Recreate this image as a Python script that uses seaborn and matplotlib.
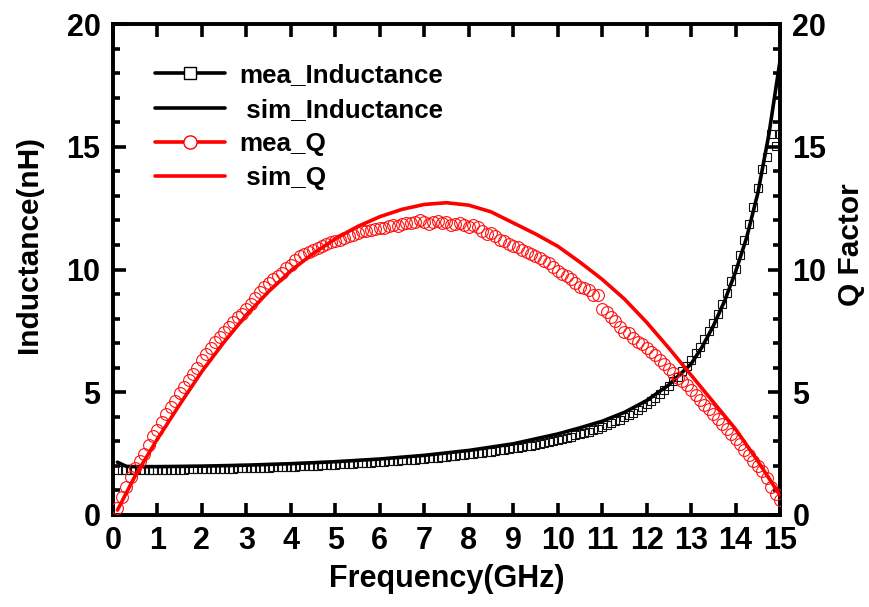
import numpy as np
import pandas as pd
import matplotlib
matplotlib.use("Agg")
import matplotlib.pyplot as plt
from matplotlib.lines import Line2D
from matplotlib.ticker import MultipleLocator
import seaborn as sns

# ---- data -------------------------------------------------------------
# measured sweep: 0.1 GHz .. 15.0 GHz in 0.1 GHz steps
freq_mea = np.round(np.arange(1, 151) * 0.1, 1)

mea_inductance = [
    1.82, 1.82, 1.82, 1.82, 1.83, 1.83, 1.83, 1.83, 1.84, 1.84,
    1.84, 1.84, 1.85, 1.85, 1.85, 1.85, 1.86, 1.86, 1.86, 1.87,
    1.87, 1.87, 1.88, 1.88, 1.88, 1.89, 1.89, 1.90, 1.90, 1.91,
    1.91, 1.92, 1.92, 1.93, 1.93, 1.94, 1.95, 1.95, 1.96, 1.97,
    1.97, 1.98, 1.99, 2.00, 2.00, 2.01, 2.02, 2.03, 2.04, 2.05,
    2.06, 2.07, 2.08, 2.09, 2.10, 2.11, 2.12, 2.13, 2.14, 2.16,
    2.17, 2.18, 2.19, 2.21, 2.22, 2.23, 2.25, 2.26, 2.28, 2.29,
    2.31, 2.32, 2.34, 2.36, 2.37, 2.39, 2.41, 2.43, 2.45, 2.47,
    2.49, 2.51, 2.53, 2.55, 2.58, 2.60, 2.63, 2.65, 2.68, 2.71,
    2.74, 2.77, 2.80, 2.83, 2.86, 2.90, 2.94, 2.97, 3.01, 3.06,
    3.10, 3.14, 3.19, 3.24, 3.29, 3.34, 3.40, 3.46, 3.52, 3.59,
    3.66, 3.73, 3.81, 3.89, 3.98, 4.07, 4.17, 4.28, 4.39, 4.51,
    4.64, 4.78, 4.93, 5.09, 5.26, 5.44, 5.64, 5.85, 6.08, 6.32,
    6.58, 6.86, 7.16, 7.48, 7.83, 8.20, 8.61, 9.05, 9.52, 10.03,
    10.60, 11.20, 11.85, 12.55, 13.30, 14.10, 14.60, 15.50, 15.05, 15.50,
]

mea_q = [
    0.30, 0.75, 1.15, 1.55, 1.90, 2.20, 2.50, 2.85, 3.20, 3.45,
    3.80, 4.10, 4.40, 4.65, 4.95, 5.20, 5.50, 5.75, 6.00, 6.30,
    6.55, 6.80, 7.05, 7.25, 7.45, 7.65, 7.85, 8.05, 8.20, 8.40,
    8.60, 8.85, 9.10, 9.30, 9.45, 9.60, 9.72, 9.85, 10.05, 10.20,
    10.40, 10.55, 10.65, 10.72, 10.80, 10.88, 10.95, 11.02, 11.10, 11.15,
    11.22, 11.30, 11.35, 11.42, 11.50, 11.55, 11.58, 11.62, 11.65, 11.70,
    11.68, 11.78, 11.80, 11.78, 11.85, 11.90, 11.88, 11.95, 12.00, 11.92,
    11.85, 11.95, 11.98, 11.90, 11.92, 11.80, 11.85, 11.90, 11.82, 11.75,
    11.80, 11.72, 11.55, 11.45, 11.50, 11.35, 11.20, 11.15, 11.05, 10.95,
    10.90, 10.80, 10.70, 10.62, 10.55, 10.45, 10.35, 10.25, 10.10, 9.95,
    9.80, 9.75, 9.62, 9.45, 9.30, 9.25, 9.15, 8.95, 8.95, 8.40,
    8.25, 8.05, 7.90, 7.65, 7.45, 7.40, 7.20, 7.05, 6.95, 6.80,
    6.65, 6.50, 6.30, 6.15, 5.95, 5.80, 5.60, 5.45, 5.30, 5.10,
    4.90, 4.70, 4.50, 4.30, 4.10, 3.90, 3.70, 3.50, 3.30, 3.10,
    2.90, 2.65, 2.45, 2.20, 2.00, 1.80, 1.50, 1.15, 0.85, 0.60,
]

# simulated model curves
freq_sim_l = [0.1, 0.3, 0.5, 1, 2, 3, 4, 5, 6, 7, 8, 9, 10, 10.5, 11, 11.5,
              12, 12.5, 13, 13.25, 13.5, 13.75, 14, 14.25, 14.5, 14.75, 15]
sim_inductance = [2.15, 1.98, 1.97, 1.97, 1.99, 2.03, 2.09, 2.17, 2.28, 2.43,
                  2.63, 2.90, 3.30, 3.55, 3.82, 4.18, 4.66, 5.30, 6.15, 6.85,
                  7.70, 8.70, 9.90, 11.30, 13.10, 15.50, 18.50]

freq_sim_q = [0.1, 0.5, 1.0, 1.5, 2.0, 2.5, 3.0, 3.5, 4.0, 4.5, 5.0, 5.5, 6.0,
              6.5, 7.0, 7.5, 8.0, 8.5, 9.0, 9.5, 10.0, 10.5, 11.0, 11.5, 12.0,
              12.5, 13.0, 13.5, 14.0, 14.5, 15.0]
sim_q = [0.20, 1.60, 3.10, 4.50, 5.85, 7.05, 8.15, 9.10, 9.95, 10.65, 11.25,
         11.75, 12.15, 12.45, 12.65, 12.72, 12.62, 12.35, 11.90, 11.45, 10.95,
         10.30, 9.60, 8.80, 7.85, 6.80, 5.70, 4.60, 3.50, 2.20, 0.80]

x_ticks = list(range(0, 16))
y_ticks = [0, 5, 10, 15, 20]

# ---- style ------------------------------------------------------------
sns.set_theme(style="ticks")
plt.rcParams["font.family"] = ["Liberation Sans", "DejaVu Sans"]
plt.rcParams["font.weight"] = "bold"
for key in ("text.color", "axes.labelcolor", "xtick.color", "ytick.color",
            "axes.edgecolor"):
    plt.rcParams[key] = "black"

LW = 2.6
fig = plt.figure(figsize=(8.7, 6.07), dpi=100)
ax = fig.add_axes([113 / 870, 92 / 607, 667 / 870, 491 / 607])
ax2 = ax.twinx()

# inductance (left axis)
sns.lineplot(x=freq_mea, y=mea_inductance, ax=ax, marker="s", linestyle="none",
             markersize=6.0, markerfacecolor="none", markeredgecolor="#111111",
             markeredgewidth=0.8, zorder=3)
sns.lineplot(x=freq_sim_l, y=sim_inductance, ax=ax, color="black",
             linewidth=LW, zorder=4)

# quality factor (right axis)
sns.lineplot(x=freq_mea, y=mea_q, ax=ax2, marker="o", linestyle="none",
             markersize=8.5, markerfacecolor="none", markeredgecolor="#ff1010",
             markeredgewidth=0.8, zorder=3)
sns.lineplot(x=freq_sim_q, y=sim_q, ax=ax2, color="#ff0000",
             linewidth=LW, zorder=4)

for a in (ax, ax2):
    a.set_xlim(0, 15)
    a.set_ylim(0, 20)
    for sp in a.spines.values():
        sp.set_linewidth(LW)
        sp.set_color("black")
        sp.set_visible(True)

ax.set_xticks(x_ticks)
ax.set_yticks(y_ticks)
ax.yaxis.set_minor_locator(MultipleLocator(1))
ax2.set_yticks(y_ticks)
ax2.yaxis.set_minor_locator(MultipleLocator(1))

tick_font = 22
ax.tick_params(axis="x", which="major", direction="in", length=9, width=LW,
               top=True, bottom=True, labelsize=tick_font, pad=8, colors="black")
ax.tick_params(axis="y", which="major", direction="in", length=9, width=LW,
               left=True, right=False, labelsize=tick_font, pad=9, colors="black")
ax.tick_params(axis="y", which="minor", direction="in", length=5, width=LW,
               left=True, right=False)
ax2.tick_params(axis="y", which="major", direction="in", length=9, width=LW,
                right=True, left=False, labelsize=tick_font, pad=9, colors="black")
ax2.tick_params(axis="y", which="minor", direction="in", length=5, width=LW,
                right=True, left=False)
for lab in ax.get_xticklabels() + ax.get_yticklabels() + ax2.get_yticklabels():
    lab.set_fontweight("bold")

ax.set_xlabel("Frequency(GHz)", fontsize=22, fontweight="bold", labelpad=6)
ax.set_ylabel("Inductance(nH)", fontsize=21.5, fontweight="bold")
ax2.set_ylabel("Q Factor", fontsize=21.5, fontweight="bold")
ax.yaxis.set_label_coords(-0.105, 0.55)
ax2.yaxis.set_label_coords(1.086, 0.55)
ax.grid(False)
ax2.grid(False)

handles = [
    Line2D([], [], color="black", lw=LW, marker="s", markersize=8.5,
           markerfacecolor="white", markeredgecolor="black", markeredgewidth=1.0),
    Line2D([], [], color="black", lw=LW),
    Line2D([], [], color="#ff0000", lw=LW, marker="o", markersize=9.5,
           markerfacecolor="white", markeredgecolor="#ff0000", markeredgewidth=1.0),
    Line2D([], [], color="#ff0000", lw=LW),
]
labels = ["mea_Inductance", " sim_Inductance", "mea_Q", " sim_Q"]
ax2.legend(handles, labels, loc="upper left", bbox_to_anchor=(0.0625, 0.92),
           frameon=False, borderpad=0, borderaxespad=0, handlelength=2.7,
           handletextpad=0.55, labelspacing=0.4,
           prop={"size": 18.7, "weight": "bold"})

fig.savefig("out.png", dpi=100)
